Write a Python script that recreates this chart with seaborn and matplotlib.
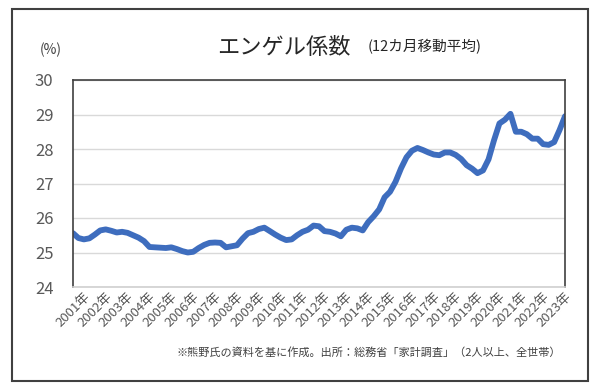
import numpy as np
import pandas as pd
import seaborn as sns
import matplotlib.pyplot as plt
from matplotlib.patches import Rectangle

# quarterly readings of the 12-month moving average (%)
start_month = "2001-01"
n_quarters = 91
engel = [
    25.56, 25.42, 25.38, 25.41, 25.52, 25.64, 25.67, 25.63, 25.58, 25.60,
    25.57, 25.50, 25.43, 25.33, 25.16, 25.15, 25.14, 25.13, 25.15, 25.10,
    25.04, 25.00, 25.02, 25.13, 25.22, 25.28, 25.29, 25.28, 25.15, 25.18,
    25.21, 25.40, 25.56, 25.60, 25.68, 25.72, 25.62, 25.52, 25.43, 25.36,
    25.38, 25.50, 25.60, 25.66, 25.78, 25.76, 25.62, 25.60, 25.55, 25.47,
    25.66, 25.72, 25.70, 25.64, 25.88, 26.05, 26.25, 26.60, 26.76, 27.05,
    27.44, 27.76, 27.95, 28.03, 27.97, 27.90, 27.84, 27.82, 27.90, 27.90,
    27.83, 27.71, 27.53, 27.43, 27.30, 27.38, 27.70, 28.25, 28.74, 28.85,
    29.02, 28.50, 28.50, 28.43, 28.30, 28.30, 28.14, 28.12, 28.20, 28.55,
    28.95,
]
years = list(range(2001, 2024))
year_labels = [f"{y}年" for y in years]

df = pd.DataFrame({
    "date": pd.date_range(start_month, periods=n_quarters, freq="QS"),
    "engel": engel,
})

sns.set_theme(style="white")
plt.rcParams["font.family"] = ["Noto Sans CJK JP", "DejaVu Sans"]

fig = plt.figure(figsize=(6, 3.9), dpi=100)
ax = fig.add_axes([73 / 600, 1 - 287 / 390, 492 / 600, 207 / 390])

sns.lineplot(data=df, x="date", y="engel", ax=ax, color="#3E6DBE",
             linewidth=4.2, solid_capstyle="round", solid_joinstyle="round")

ax.set_ylim(24, 30)
ax.set_yticks(range(24, 31))
ax.set_xlim(pd.Timestamp("2001-01-01"), pd.Timestamp("2023-07-01"))
ax.set_xticks([pd.Timestamp(f"{y}-01-01") for y in years])
ax.set_xticklabels(year_labels, rotation=45, ha="center", va="top",
                   fontsize=9.5, color="#595959")
ax.tick_params(axis="y", labelsize=12, labelcolor="#595959", length=0, pad=14)
ax.tick_params(axis="x", length=0, pad=2)
ax.set_xlabel("")
ax.set_ylabel("")

ax.grid(axis="y", color="#D9D9D9", linewidth=1)
ax.grid(axis="x", visible=False)
for side in ["top", "left", "right"]:
    ax.spines[side].set_color("#404040")
    ax.spines[side].set_linewidth(1.2)
ax.spines["bottom"].set_color("#D0D0D0")
ax.spines["bottom"].set_linewidth(1.2)

# outer frame
fig.patches.append(Rectangle((12 / 600, 1 - 381 / 390), 576 / 600, 372 / 390,
                             transform=fig.transFigure, fill=False,
                             edgecolor="#404040", linewidth=1.5))

fig.text(40 / 600, 1 - 50 / 390, "(%)", fontsize=10, color="#404040",
         va="center", ha="left")
fig.text(217 / 600, 1 - 48 / 390, "エンゲル係数", fontsize=16, color="#262626",
         va="center", ha="left")
fig.text(368 / 600, 1 - 47 / 390, "(12カ月移動平均)", fontsize=10.5,
         color="#262626", va="center", ha="left")
fig.text(177 / 600, 1 - 352 / 390,
         "※熊野氏の資料を基に作成。出所：総務省「家計調査」（2人以上、全世帯）",
         fontsize=8, color="#404040", va="center", ha="left")

fig.savefig("out.png", dpi=100)
